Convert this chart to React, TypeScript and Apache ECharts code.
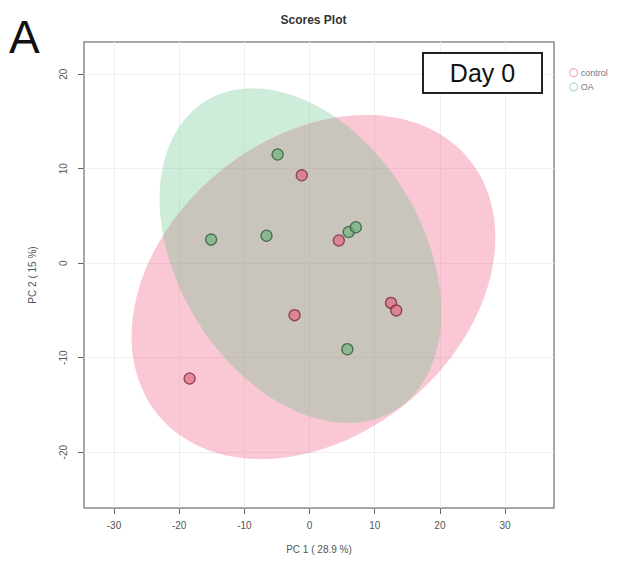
import React, { useEffect, useRef } from "react";
import * as echarts from "echarts";

// PCA scores (PC1, PC2)
const controlPoints: number[][] = [
  [-1.2, 9.3],
  [4.5, 2.4],
  [12.5, -4.2],
  [13.3, -5.0],
  [-2.3, -5.5],
  [-18.4, -12.2],
];
const oaPoints: number[][] = [
  [-4.9, 11.5],
  [-15.1, 2.5],
  [-6.6, 2.9],
  [6.0, 3.3],
  [7.1, 3.8],
  [5.8, -9.1],
];
// confidence ellipses: [centerX, centerY, halfWidth, halfHeight, yOffsetAtMaxX]
const controlEllipse: number[] = [0.6, -2.52, 27.9, 18.2, 5.25];
const oaEllipse: number[] = [-1.4, 0.8, 21.6, 17.7, -6.0];

const xTicks = [-30, -20, -10, 0, 10, 20, 30];
const yTicks = [-20, -10, 0, 10, 20];

const FONT = "Liberation Sans, Arial, sans-serif";

function ellipseRender(fill: string) {
  return (params: any, api: any) => {
    const cx = api.value(0);
    const cy = api.value(1);
    const w = api.value(2);
    const h = api.value(3);
    const d = api.value(4);
    const k = Math.sqrt(Math.max(h * h - d * d, 0));
    const pts: number[][] = [];
    const n = 160;
    for (let i = 0; i < n; i++) {
      const t = (i / n) * Math.PI * 2;
      pts.push(api.coord([cx + w * Math.cos(t), cy + d * Math.cos(t) + k * Math.sin(t)]));
    }
    return { type: "polygon", shape: { points: pts }, style: { fill, stroke: "none" } };
  };
}

export default function App() {
  const ref = useRef<HTMLDivElement>(null);
  useEffect(() => {
    if (!ref.current) return;
    const chart = echarts.init(ref.current, undefined, { renderer: "svg" });
    const axisLabelStyle = { color: "#555", fontSize: 10, fontFamily: FONT };
    chart.setOption({
      animation: false,
      backgroundColor: "#fff",
      title: {
        text: "Scores Plot",
        left: "center",
        top: 9,
        textStyle: { fontSize: 12, fontWeight: "bold", color: "#333", fontFamily: FONT },
      },
      legend: {
        orient: "vertical",
        left: 564,
        top: 63,
        itemWidth: 8,
        itemHeight: 8,
        itemGap: 5,
        textStyle: { fontSize: 9, color: "#777", fontFamily: FONT, padding: [0, 0, 0, -2] },
        data: [
          { name: "control", icon: "circle", itemStyle: { color: "rgba(0,0,0,0)", borderColor: "#f0a0b4", borderWidth: 1.3 } },
          { name: "OA", icon: "circle", itemStyle: { color: "rgba(0,0,0,0)", borderColor: "#a8d6b6", borderWidth: 1.3 } },
        ],
      },
      grid: {
        left: 84,
        right: 73,
        top: 42,
        bottom: 69,
        show: true,
        borderColor: "#8a8a8a",
        borderWidth: 1.5,
        backgroundColor: "#fff",
      },
      xAxis: {
        type: "value",
        min: -34.6,
        max: 37.5,
        name: "PC 1 ( 28.9 %)",
        nameLocation: "middle",
        nameGap: 36,
        nameTextStyle: { color: "#555", fontSize: 10, fontFamily: FONT },
        axisLine: { show: false, onZero: false },
        axisTick: { show: true, length: 6, customValues: xTicks, lineStyle: { color: "#666" } },
        axisLabel: { ...axisLabelStyle, margin: 12, customValues: xTicks },
        splitLine: { show: true, lineStyle: { color: "#efefef", width: 1 } },
      },
      yAxis: {
        type: "value",
        min: -25.9,
        max: 23.4,
        name: "PC 2 ( 15 %)",
        nameLocation: "middle",
        nameGap: 47,
        nameRotate: 90,
        nameTextStyle: { color: "#555", fontSize: 10, fontFamily: FONT },
        axisLine: { show: false, onZero: false },
        axisTick: { show: true, length: 6, customValues: yTicks, lineStyle: { color: "#666" } },
        axisLabel: { ...axisLabelStyle, rotate: 90, margin: 16, customValues: yTicks },
        splitLine: { show: true, lineStyle: { color: "#efefef", width: 1 } },
      },
      series: [
        {
          type: "custom",
          name: "controlEllipse",
          renderItem: ellipseRender("rgba(238,72,112,0.3)"),
          data: [controlEllipse],
          encode: { x: 0, y: 1 },
          z: 1,
          silent: true,
        },
        {
          type: "custom",
          name: "oaEllipse",
          renderItem: ellipseRender("rgba(92,192,132,0.3)"),
          data: [oaEllipse],
          encode: { x: 0, y: 1 },
          z: 2,
          silent: true,
        },
        {
          type: "scatter",
          name: "control",
          data: controlPoints,
          symbolSize: 11,
          z: 3,
          itemStyle: { color: "rgba(222,104,130,0.85)", borderColor: "#7a2a3c", borderWidth: 1.3 },
        },
        {
          type: "scatter",
          name: "OA",
          data: oaPoints,
          symbolSize: 11,
          z: 3,
          itemStyle: { color: "rgba(110,178,124,0.85)", borderColor: "#2f5a38", borderWidth: 1.3 },
        },
      ],
      graphic: [
        {
          type: "text",
          left: 9,
          top: 14,
          style: { text: "A", fontSize: 46, fill: "#111", fontFamily: FONT },
        },
        {
          type: "rect",
          shape: { x: 423, y: 53, width: 119, height: 40 },
          style: { fill: "#fff", stroke: "#222", lineWidth: 2 },
          z: 10,
        },
        {
          type: "text",
          x: 482.5,
          y: 73,
          style: {
            text: "Day 0",
            fontSize: 25,
            fill: "#111",
            fontFamily: FONT,
            textAlign: "center",
            textVerticalAlign: "middle",
          },
          z: 11,
        },
      ],
    });
    return () => chart.dispose();
  }, []);
  return <div ref={ref} style={{ position: "fixed", left: 0, top: 0, width: 627, height: 577 }} />;
}
